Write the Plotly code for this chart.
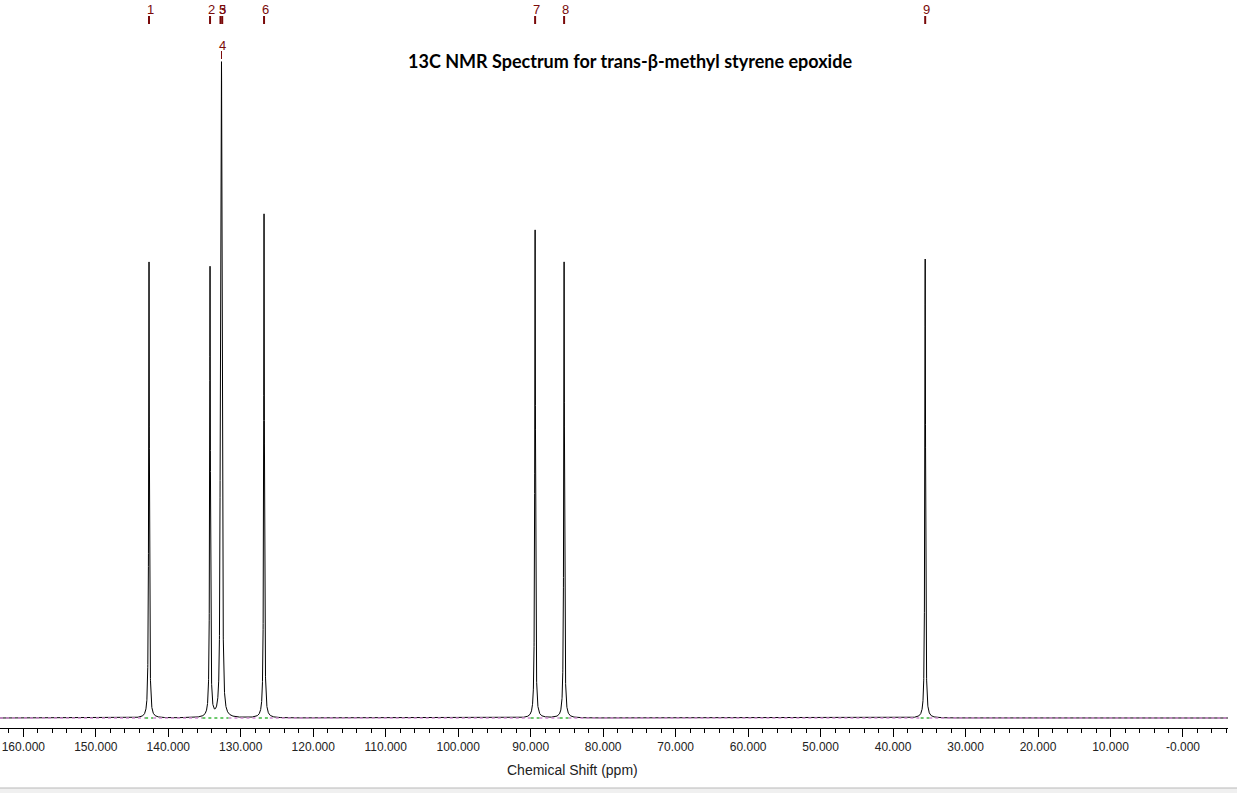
import numpy as np
import plotly.graph_objects as go

# ---- data ----
peak_ids = ["1", "2", "3", "4", "5", "6", "7", "8", "9"]
peak_ppm = [142.66, 134.24, 132.80, 132.66, 132.56, 126.79, 89.39, 85.39, 35.57]
peak_height = [456, 450, 330, 525, 300, 504, 488, 456, 459]
linewidth_ppm = 0.06  # Lorentzian half width

tick_vals = [160, 150, 140, 130, 120, 110, 100, 90, 80, 70, 60, 50, 40, 30, 20, 10, 0]
tick_text = ["160.000", "150.000", "140.000", "130.000", "120.000", "110.000", "100.000",
             "90.000", "80.000", "70.000", "60.000", "50.000", "40.000", "30.000",
             "20.000", "10.000", "-0.000"]

# integration regions (green) in ppm
regions = [(143.2, 142.1), (135.3, 131.7), (127.5, 126.0), (90.0, 88.8), (86.0, 84.8), (36.2, 35.0)]

X_LEFT, X_RIGHT = 163.22, -6.21
W, H = 1237, 793
PLOT_W, PLOT_H = 1228, 728

# ---- spectrum ----
x = np.arange(X_LEFT, X_RIGHT, -0.005)
x = np.sort(np.concatenate([x, np.array(peak_ppm)]))[::-1]
y = np.zeros_like(x)
for c, h in zip(peak_ppm, peak_height):
    y += h / (1 + ((x - c) / linewidth_ppm) ** 2)

fig = go.Figure()
fig.add_trace(go.Scatter(x=x, y=y, mode="lines", line=dict(color="black", width=1),
                         hoverinfo="skip", showlegend=False))

# baseline overlays: pink dashes outside regions, green dashes in regions
bx = [X_LEFT]
for a, b in regions:
    bx += [a, None, b]
bx += [X_RIGHT]
by = [0 if v is not None else None for v in bx]
fig.add_trace(go.Scatter(x=bx, y=by, mode="lines", connectgaps=False,
                         line=dict(color="#d08ad0", width=1.5, dash="3px,3px"),
                         hoverinfo="skip", showlegend=False))
gx, gy = [], []
for a, b in regions:
    gx += [a, b, None]
    gy += [0, 0, None]
fig.add_trace(go.Scatter(x=gx, y=gy, mode="lines",
                         line=dict(color="#3cb83c", width=1.5, dash="3px,3px"),
                         hoverinfo="skip", showlegend=False))

# peak labels
label_dx = {"3": -0.12, "5": 0.12}
for pid, c in zip(peak_ids, peak_ppm):
    if pid == "4":
        ty, t0, t1 = 673, 667, 659
    else:
        ty, t0, t1 = 709, 702, 694
    fig.add_annotation(x=c + label_dx.get(pid, 0) - 0.2, y=ty, xref="x", yref="y", text=pid,
                       showarrow=False, font=dict(family="Liberation Sans", size=13, color="#7a0a0a"),
                       xanchor="center", yanchor="middle")
    fig.add_shape(type="line", xref="x", yref="y", x0=c, x1=c, y0=t0, y1=t1,
                  line=dict(color="#7a0a0a", width=2 if pid != "4" else 1))

# title
fig.add_annotation(x=630 / PLOT_W, y=657, xref="paper", yref="y",
                   text="<b>13C NMR Spectrum for trans-β-methyl styrene epoxide</b>",
                   showarrow=False, font=dict(family="Lato", size=18, color="black"),
                   xanchor="center", yanchor="middle")
# axis title
fig.add_annotation(x=572 / PLOT_W, y=(PLOT_H - 770) / PLOT_H, xref="paper", yref="paper",
                   text="Chemical Shift (ppm)", showarrow=False,
                   font=dict(family="Liberation Sans", size=14, color="#222"),
                   xanchor="center", yanchor="middle")

# window bottom border
fig.add_shape(type="rect", xref="paper", yref="paper", x0=-0.01, x1=1.02,
              y0=(PLOT_H - 788) / PLOT_H, y1=(PLOT_H - 795) / PLOT_H,
              line=dict(width=0), fillcolor="#f0f0f0")
fig.add_shape(type="line", xref="paper", yref="paper", x0=-0.01, x1=1.02,
              y0=(PLOT_H - 788) / PLOT_H, y1=(PLOT_H - 788) / PLOT_H,
              line=dict(color="#b8b8b8", width=1))

fig.update_layout(
    width=W, height=H,
    margin=dict(l=0, r=W - PLOT_W, t=0, b=H - PLOT_H),
    paper_bgcolor="white", plot_bgcolor="white",
    xaxis=dict(range=[X_LEFT, X_RIGHT], tickvals=tick_vals, ticktext=tick_text,
               showgrid=False, zeroline=False, showline=True, linecolor="black", linewidth=1,
               ticks="outside", ticklen=8, tickcolor="black", tickwidth=1,
               ticklabeloverflow="allow",
               tickfont=dict(family="Liberation Sans", size=12, color="#222"),
               minor=dict(dtick=2, tick0=0, ticks="outside", ticklen=4, tickcolor="black", showgrid=False)),
    yaxis=dict(range=[-10, PLOT_H - 10], visible=False, showgrid=False, zeroline=False),
    showlegend=False,
)

fig.write_html("out.html", config={"displayModeBar": False},
               post_script="document.body.style.margin='0';document.body.style.overflow='hidden';")
